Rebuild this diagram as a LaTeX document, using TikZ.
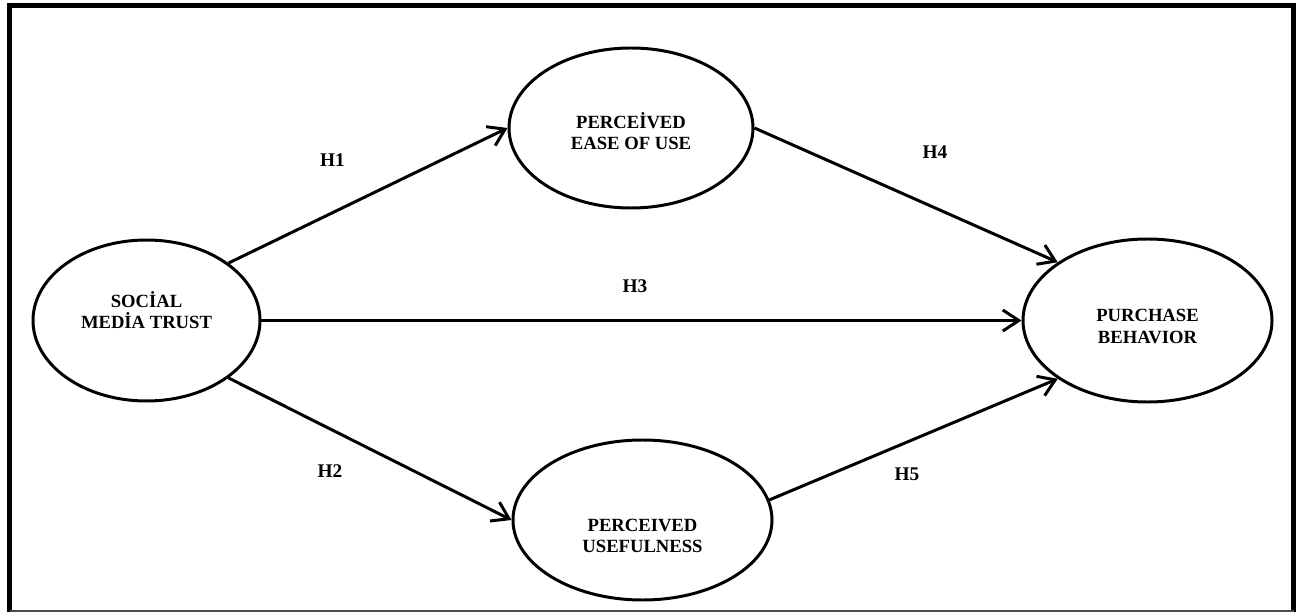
\documentclass[tikz,border=0pt]{standalone}
\usepackage{fontspec}
\setmainfont{Liberation Serif}
\usepackage{tikz}
\usetikzlibrary{shapes.geometric, arrows.meta}

\begin{document}
\begin{tikzpicture}

\tikzset{
  kavram/.style={ellipse, draw=black, line width=1.7pt},
  metin/.style={align=center, font=\fontsize{10.6}{12}\selectfont\bfseries},
  hipo/.style={font=\fontsize{11}{12}\selectfont\bfseries},
  arrow/.style={-{Straight Barb[length=3.2mm, width=4.2mm]}, line width=1.7pt}
}

\useasboundingbox (0,0) rectangle (25.94,-12.24);

% ---- FRAME ----
\draw[line width=2.8pt] (0.19,-12.28) -- (0.19,-0.11) -- (25.87,-0.11) -- (25.87,-12.28);
\draw[line width=0.6pt, black!70] (0.19,-12.22) -- (25.87,-12.22);

% ---- CONSTRUCTS ----
\node (smt) [kavram, minimum width=4.54cm, minimum height=3.22cm] at ( 2.93, -6.41) {};
\node (peu) [kavram, minimum width=4.88cm, minimum height=3.20cm] at (12.62, -2.56) {};
\node (pu)  [kavram, minimum width=5.18cm, minimum height=3.20cm] at (12.85,-10.40) {};
\node (pb)  [kavram, minimum width=4.98cm, minimum height=3.26cm] at (22.95, -6.41) {};

\node (smtyazi) [metin] at ([yshift= 2.0mm]smt.center) {SOC\.{I}AL\\MED\.{I}A TRUST};
\node (peuyazi) [metin] at ([yshift=-0.6mm]peu.center) {PERCE\.{I}VED\\EASE OF USE};
\node (puyazi)  [metin] at ([yshift=-3.2mm]pu.center)  {PERCEIVED\\USEFULNESS};
\node (pbyazi)  [metin] at ([yshift=-1.2mm]pb.center)  {PURCHASE\\BEHAVIOR};

% ---- PATHS ----
\draw[arrow] (smt.35)   -- (peu.west);
\draw[arrow] (smt.-35)  -- (pu.west);
\draw[arrow] (smt.east) -- (pb.west);
\draw[arrow] (peu.east) -- (pb.147);
\draw[arrow] (pu.9)     -- (pb.213);

% ---- HYPOTHESES ----
\node (h1) [hipo] at ( 6.65,-3.20) {H1};
\node (h2) [hipo] at ( 6.60,-9.42) {H2};
\node (h3) [hipo] at (12.70,-5.72) {H3};
\node (h4) [hipo] at (18.70,-3.04) {H4};
\node (h5) [hipo] at (18.14,-9.48) {H5};

\end{tikzpicture}
\end{document}
